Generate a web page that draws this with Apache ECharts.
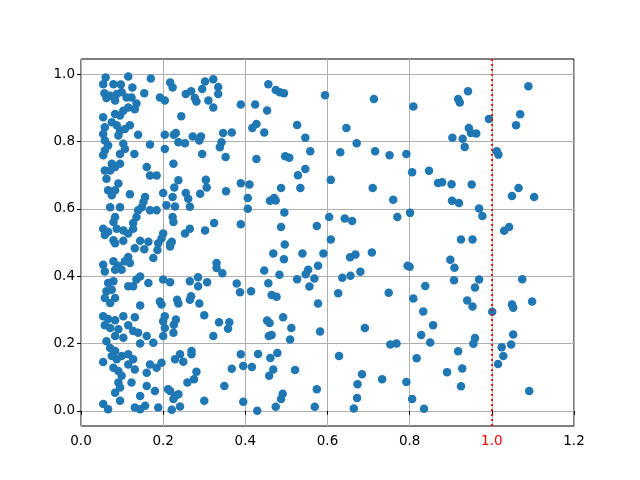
<!DOCTYPE html>
<html>
<head>
<meta charset="utf-8">
<script src="https://cdn.jsdelivr.net/npm/echarts@6/dist/echarts.min.js"></script>
<style>html,body{margin:0;padding:0;background:#fff}#c{width:640px;height:480px}</style>
</head>
<body>
<div id="c"></div>
<script>
// x values of the points
var xs = [
0.713,0.809,0.918,0.922,0.942,1.089,0.993,1.069,1.059,0.944,0.949,0.962,0.904,0.929,0.934,0.716,0.751,0.792,1.012,1.016,
0.806,0.847,0.869,0.879,0.902,0.951,0.710,1.065,1.049,1.103,0.760,0.903,0.920,0.969,0.977,0.770,0.801,1.030,1.042,0.925,0.953,
0.708,0.795,0.800,0.899,0.909,0.908,0.969,0.959,1.074,0.749,0.838,0.809,0.940,0.953,0.833,1.001,1.049,1.052,1.098,
0.857,0.828,0.850,0.959,0.955,1.052,1.047,1.024,1.028,1.015,0.753,0.768,0.918,0.817,0.928,0.891,0.733,0.792,0.925,1.091,0.806,0.835,
0.456,0.474,0.484,0.494,0.594,0.424,0.453,0.427,0.417,0.446,0.526,0.546,0.646,0.671,0.558,0.631,0.427,0.497,0.507,0.546,0.528,0.608,
0.410,0.487,0.534,0.406,0.470,0.460,0.474,0.406,0.495,0.487,0.574,0.604,0.642,0.660,0.608,0.496,
0.468,0.539,0.590,0.494,0.655,0.668,0.446,0.483,0.553,0.547,0.577,0.526,0.568,0.556,0.636,0.656,0.680,0.626,0.414,0.456,0.464,0.476,0.577,
0.453,0.459,0.492,0.512,0.457,0.464,0.509,0.582,0.691,0.431,0.478,0.461,0.416,0.468,0.458,0.521,0.628,0.684,0.673,0.672,0.664,0.574,0.491,0.487,0.474,0.429,0.569,
0.223,0.302,0.322,0.295,0.334,0.334,0.255,0.268,0.277,0.281,0.310,0.322,0.389,0.244,0.231,0.226,0.237,0.253,0.272,0.288,0.292,0.346,0.367,0.342,0.338,0.295,0.352,0.225,
0.237,0.227,0.304,0.306,0.290,0.255,0.261,0.265,0.353,0.389,0.223,0.229,0.223,0.225,0.253,0.265,0.302,0.324,0.389,0.221,
0.217,0.330,0.330,0.344,0.217,0.265,0.285,0.285,0.307,0.379,0.387,0.234,0.237,0.268,0.265,0.288,0.300,0.231,0.226,0.225,0.336,0.361,0.358,0.322,
0.241,0.229,0.249,0.269,0.269,0.389,0.395,0.367,0.281,0.275,0.259,0.349,0.217,0.229,0.237,0.225,0.241,0.221,0.300,0.395,
0.060,0.115,0.170,0.217,0.054,0.079,0.097,0.125,0.057,0.071,0.087,0.099,0.111,0.123,0.135,0.083,0.062,0.154,0.192,0.204,
0.115,0.103,0.131,0.083,0.095,0.054,0.058,0.054,0.075,0.087,0.095,0.107,0.119,0.091,0.139,0.204,0.058,0.066,0.058,0.103,0.107,0.168,0.204,
0.054,0.095,0.130,0.075,0.083,0.071,0.095,0.058,0.062,0.160,0.168,0.184,0.091,0.083,0.066,0.075,0.119,0.200,0.156,0.152,0.148,0.071,0.095,
0.139,0.135,0.168,0.184,0.208,0.083,0.079,0.127,0.054,0.066,0.058,0.087,0.103,0.115,0.127,0.200,0.196,0.079,0.103,0.144,0.164,
0.083,0.131,0.154,0.188,0.186,0.217,0.176,0.115,0.107,0.119,0.054,0.058,0.079,0.091,0.083,0.099,0.144,0.135,0.115,0.127,0.164,0.200,0.192,0.196,
0.066,0.079,0.075,0.062,0.058,0.083,0.071,0.144,0.204,0.200,0.204,0.200,
0.054,0.066,0.058,0.071,0.083,0.103,0.131,0.091,0.115,0.127,0.139,0.083,0.103,0.160,0.176,0.144,0.062,0.071,0.083,0.075,0.054,
0.087,0.099,0.115,0.127,0.079,0.091,0.099,0.115,0.131,0.168,0.184,0.160,0.196,0.091,0.095,0.083,0.123,0.160,0.180,0.144,0.212,
0.095,0.054,0.066,0.131,0.144,0.156,0.188
];
// y values of the points (same order)
var ys = [
0.926,0.904,0.926,0.916,0.949,0.964,0.867,0.881,0.848,0.840,0.825,0.824,0.811,0.808,0.784,0.771,0.759,0.763,0.771,0.761,
0.709,0.713,0.677,0.679,0.673,0.672,0.662,0.662,0.638,0.635,0.627,0.624,0.617,0.601,0.579,0.576,0.588,0.535,0.546,0.509,0.509,
0.470,0.431,0.428,0.449,0.425,0.388,0.390,0.366,0.391,0.351,0.371,0.334,0.328,0.310,0.295,0.294,0.316,0.306,0.325,
0.254,0.225,0.203,0.216,0.199,0.227,0.197,0.189,0.163,0.139,0.197,0.200,0.177,0.156,0.126,0.115,0.094,0.086,0.073,0.059,0.035,0.006,
0.970,0.953,0.946,0.943,0.937,0.910,0.892,0.852,0.840,0.827,0.849,0.811,0.840,0.795,0.771,0.768,0.748,0.756,0.752,0.718,0.700,0.686,
0.672,0.662,0.662,0.632,0.632,0.624,0.625,0.600,0.589,0.546,0.549,0.576,0.571,0.564,0.509,0.494,
0.467,0.467,0.467,0.450,0.456,0.464,0.417,0.404,0.419,0.406,0.431,0.391,0.393,0.369,0.395,0.401,0.413,0.349,0.355,0.379,0.344,0.339,0.319,
0.268,0.261,0.278,0.246,0.222,0.225,0.212,0.236,0.246,0.169,0.172,0.157,0.130,0.123,0.104,0.121,0.163,0.109,0.079,0.038,0.007,0.064,0.051,0.035,0.012,0.000,0.012,
0.960,0.978,0.985,0.956,0.962,0.941,0.941,0.949,0.929,0.919,0.922,0.901,0.910,0.875,0.825,0.820,0.798,0.795,0.815,0.803,0.815,0.825,0.827,0.798,0.783,0.763,0.754,0.734,
0.685,0.663,0.686,0.663,0.645,0.647,0.630,0.606,0.652,0.676,0.635,0.607,0.576,0.561,0.527,0.541,0.536,0.558,0.554,0.502,
0.488,0.439,0.424,0.409,0.382,0.385,0.397,0.370,0.382,0.378,0.352,0.330,0.319,0.340,0.330,0.319,0.284,0.271,0.256,0.232,0.263,0.263,0.244,0.222,
0.168,0.153,0.146,0.178,0.168,0.168,0.133,0.125,0.116,0.094,0.084,0.074,0.059,0.044,0.049,0.035,0.013,0.003,0.030,0.027,
0.990,0.993,0.987,0.975,0.970,0.970,0.969,0.960,0.943,0.936,0.941,0.946,0.931,0.931,0.913,0.922,0.929,0.943,0.931,0.922,
0.901,0.891,0.896,0.882,0.877,0.872,0.842,0.822,0.857,0.848,0.832,0.837,0.848,0.818,0.820,0.820,0.803,0.788,0.773,0.793,0.778,0.791,0.778,
0.759,0.763,0.763,0.734,0.724,0.714,0.734,0.714,0.689,0.724,0.699,0.699,0.675,0.655,0.655,0.640,0.643,0.647,0.635,0.620,0.605,0.605,0.605,
0.596,0.576,0.596,0.596,0.611,0.576,0.561,0.558,0.541,0.532,0.522,0.541,0.536,0.527,0.541,0.527,0.512,0.507,0.505,0.505,0.502,
0.498,0.483,0.480,0.498,0.478,0.496,0.454,0.457,0.444,0.439,0.434,0.414,0.444,0.431,0.419,0.419,0.399,0.390,0.370,0.370,0.380,0.390,0.325,0.316,
0.380,0.385,0.360,0.355,0.335,0.335,0.320,0.313,0.281,0.266,0.246,0.222,
0.281,0.273,0.254,0.246,0.269,0.281,0.278,0.242,0.254,0.237,0.232,0.222,0.217,0.222,0.202,0.200,0.207,0.187,0.178,0.163,0.145,
0.153,0.163,0.168,0.153,0.128,0.118,0.104,0.138,0.123,0.138,0.128,0.113,0.143,0.084,0.069,0.054,0.084,0.074,0.059,0.044,0.064,
0.030,0.020,0.005,0.010,0.005,0.015,0.010
];
var xTicks = [0, 0.2, 0.4, 0.6, 0.8, 1.0, 1.2];
var yTicks = [0, 0.2, 0.4, 0.6, 0.8, 1.0];
var threshold = 1.0;

var points = [];
for (var i = 0; i < Math.min(xs.length, ys.length); i++) points.push([xs[i], ys[i]]);

var chart = echarts.init(document.getElementById('c'), null, {renderer: 'canvas'});
var labelFont = {fontFamily: 'DejaVu Sans', fontSize: 13.5, color: '#000'};
chart.setOption({
  animation: false,
  backgroundColor: '#fff',
  grid: {left: 81, right: 66, top: 59, bottom: 54, show: true, borderColor: '#000', borderWidth: 1, backgroundColor: 'transparent'},
  xAxis: {
    type: 'value', min: 0, max: 1.2, interval: 0.2,
    axisLine: {show: false},
    axisTick: {show: true, inside: false, length: 4, customValues: xTicks, lineStyle: {color: '#000', width: 1}},
    axisLabel: Object.assign({}, labelFont, {
      margin: 8, customValues: xTicks,
      formatter: function (v) {
        var s = v.toFixed(1);
        return Math.abs(v - threshold) < 1e-9 ? '{r|' + s + '}' : s;
      },
      rich: {r: Object.assign({}, labelFont, {color: '#ff0000'})}
    }),
    splitLine: {show: true, lineStyle: {color: '#b0b0b0', width: 1}}
  },
  yAxis: {
    type: 'value', min: -0.045, max: 1.045,
    axisLine: {show: false},
    axisTick: {show: true, inside: false, length: 4, customValues: yTicks, lineStyle: {color: '#000', width: 1}},
    axisLabel: Object.assign({}, labelFont, {
      margin: 6, customValues: yTicks,
      formatter: function (v) { return v.toFixed(1); }
    }),
    splitLine: {show: true, lineStyle: {color: '#b0b0b0', width: 1}}
  },
  series: [{
    type: 'scatter',
    data: points,
    symbol: 'circle',
    symbolSize: 8.5,
    itemStyle: {color: '#1f77b4', opacity: 1},
    markLine: {
      silent: true,
      symbol: ['none', 'none'],
      label: {show: false},
      lineStyle: {color: '#ff0000', type: [2, 3], width: 1.8},
      data: [{xAxis: threshold}]
    }
  }]
});
</script>
</body>
</html>
